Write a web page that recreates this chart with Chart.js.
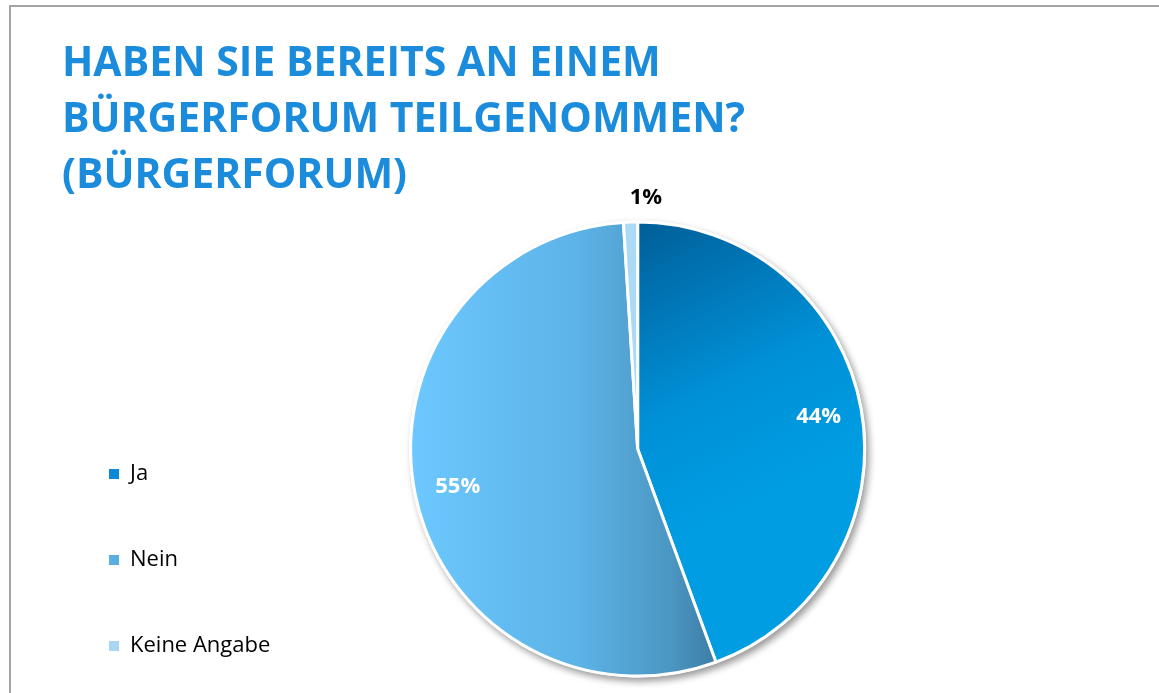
<!DOCTYPE html>
<html>
<head>
<meta charset="utf-8">
<script src="https://cdn.jsdelivr.net/npm/chart.js@4.4.0/dist/chart.umd.min.js"></script>
<style>
  html, body { margin: 0; padding: 0; background: #fff; overflow: hidden; width: 1159px; height: 693px; }
  #frame { position: absolute; left: 9px; top: 5px; width: 1200px; height: 760px; border-top: 2px solid #a3a3a3; border-left: 2px solid #a3a3a3; }
  #title { position: absolute; left: 62px; top: 32px; font: bold 41px/56px "Open Sans", sans-serif; color: #1a8cdb; white-space: nowrap; }
  #wrap { position: absolute; left: 0; top: 0; width: 1159px; height: 730px; }
</style>
</head>
<body>
<div id="frame"></div>
<div id="wrap"><canvas id="chart" width="1159" height="730"></canvas></div>
<div id="title"></div>
<script>
// Daten
const titleLines = ['HABEN SIE BEREITS AN EINEM', 'BÜRGERFORUM TEILGENOMMEN?', '(BÜRGERFORUM)'];
const categories = ['Ja', 'Nein', 'Keine Angabe'];
const values = [44.4, 54.6, 1.0];
const legendColors = ['#0a8ad4', '#5aafe2', '#a9d6f2'];

const pieRadius = 227;

document.getElementById('title').innerHTML = titleLines.join('<br>');

// Verlauf je Segment
function sliceFill(context) {
  const chart = context.chart;
  const area = chart.chartArea;
  const i = context.dataIndex;
  if (!area) return legendColors[i];
  const cx = (area.left + area.right) / 2;
  const cy = (area.top + area.bottom) / 2;
  const r = pieRadius;
  const ctx = chart.ctx;
  if (i === 0) {
    const g = ctx.createLinearGradient(cx, cy - r, cx + r * 0.6, cy + r * 0.2);
    g.addColorStop(0, '#005e98');
    g.addColorStop(0.6, '#0090d6');
    g.addColorStop(1, '#009de3');
    return g;
  }
  if (i === 1) {
    const g = ctx.createLinearGradient(cx - r, 0, cx + r * 0.35, 0);
    g.addColorStop(0, '#6cc8ff');
    g.addColorStop(0.55, '#5cb3e6');
    g.addColorStop(0.85, '#4b96c2');
    g.addColorStop(1, '#3c7ca4');
    return g;
  }
  return '#acd9f5';
}

// Schatten unter dem Kreis
const pieShadow = {
  id: 'pieShadow',
  beforeDatasetsDraw(chart) {
    const arc = chart.getDatasetMeta(0).data[0];
    if (!arc) return;
    const ctx = chart.ctx;
    ctx.save();
    ctx.shadowColor = 'rgba(0,0,0,0.4)';
    ctx.shadowBlur = 7;
    ctx.shadowOffsetX = 3;
    ctx.shadowOffsetY = 4;
    ctx.fillStyle = '#fff';
    ctx.beginPath();
    ctx.arc(arc.x, arc.y, arc.outerRadius + 1.5, 0, Math.PI * 2);
    ctx.fill();
    ctx.restore();
  }
};

// Prozentwerte
const sliceLabels = {
  id: 'sliceLabels',
  afterDatasetsDraw(chart) {
    const ctx = chart.ctx;
    const meta = chart.getDatasetMeta(0);
    const total = values.reduce((a, b) => a + b, 0);
    ctx.save();
    ctx.font = 'bold 22px "Open Sans", sans-serif';
    ctx.textBaseline = 'middle';
    meta.data.forEach((arc, i) => {
      const mid = (arc.startAngle + arc.endAngle) / 2;
      const share = values[i] / total;
      const inside = share >= 0.05;
      const dist = inside ? arc.outerRadius * 0.81 : arc.outerRadius + 24;
      ctx.fillStyle = inside ? '#fff' : '#000';
      ctx.textAlign = inside ? 'center' : 'left';
      ctx.fillText(Math.round(share * 100) + '%', arc.x + Math.cos(mid) * dist, arc.y + Math.sin(mid) * dist);
    });
    ctx.restore();
  }
};

new Chart(document.getElementById('chart'), {
  type: 'pie',
  data: {
    labels: categories,
    datasets: [{
      data: values,
      backgroundColor: sliceFill,
      borderColor: '#fff',
      borderWidth: 3,
      radius: pieRadius
    }]
  },
  options: {
    responsive: false,
    animation: false,
    layout: { padding: { left: 45, top: 177, bottom: 9, right: 164 } },
    plugins: {
      legend: {
        position: 'left',
        align: 'end',
        labels: {
          font: { family: 'Open Sans', size: 22 },
          color: '#000',
          boxWidth: 10,
          boxHeight: 10,
          padding: 64,
          generateLabels: () => categories.map((c, i) => ({
            text: c,
            fillStyle: legendColors[i],
            strokeStyle: legendColors[i],
            lineWidth: 0,
            fontColor: '#000',
            hidden: false,
            index: i
          }))
        }
      },
      tooltip: { enabled: false }
    }
  },
  plugins: [pieShadow, sliceLabels]
});
</script>
</body>
</html>
